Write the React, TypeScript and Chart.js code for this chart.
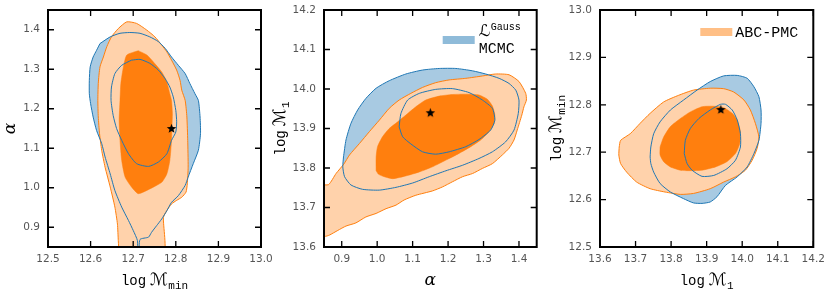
import React, { useEffect, useRef } from 'react';
import { Chart, registerables } from 'chart.js';

Chart.register(...registerables);

type Pt = [number, number];

// ---------- tick values ----------
const P1_X_TICKS = [12.5, 12.6, 12.7, 12.8, 12.9, 13.0];
const P1_Y_TICKS = [0.9, 1.0, 1.1, 1.2, 1.3, 1.4];
const P2_X_TICKS = [0.9, 1.0, 1.1, 1.2, 1.3, 1.4];
const P2_Y_TICKS = [13.6, 13.7, 13.8, 13.9, 14.0, 14.1, 14.2];
const P3_X_TICKS = [13.6, 13.7, 13.8, 13.9, 14.0, 14.1, 14.2];
const P3_Y_TICKS = [12.5, 12.6, 12.7, 12.8, 12.9, 13.0];

// ---------- true parameter values ----------
const TRUE_LOG_MMIN = 12.79;
const TRUE_ALPHA = 1.15;
const TRUE_LOG_M1 = 13.94;

// ---------- panel 1: (log Mmin, alpha) ----------
const P1_ABC_OUTER: Pt[] = [
  [12.667, 0.83], [12.665, 0.866], [12.663, 0.908], [12.657, 0.951], [12.646, 1.002], [12.634, 1.052],
  [12.626, 1.095], [12.621, 1.137], [12.618, 1.179], [12.617, 1.221], [12.618, 1.264], [12.622, 1.306],
  [12.630, 1.331], [12.638, 1.357], [12.649, 1.382], [12.665, 1.403], [12.685, 1.420], [12.708, 1.416],
  [12.732, 1.399], [12.751, 1.382], [12.767, 1.361], [12.779, 1.344], [12.790, 1.323], [12.802, 1.298],
  [12.810, 1.272], [12.814, 1.247], [12.822, 1.221], [12.826, 1.179], [12.828, 1.120], [12.829, 1.052],
  [12.827, 1.010], [12.824, 0.989], [12.814, 0.976], [12.802, 0.968], [12.790, 0.959], [12.779, 0.942],
  [12.771, 0.925], [12.771, 0.83],
];
const P1_ABC_INNER: Pt[] = [
  [12.712, 1.347], [12.732, 1.336], [12.747, 1.319], [12.767, 1.293], [12.779, 1.268], [12.786, 1.238],
  [12.790, 1.221], [12.792, 1.188], [12.791, 1.154], [12.790, 1.120], [12.786, 1.069], [12.779, 1.035],
  [12.767, 1.014], [12.739, 0.997], [12.712, 0.985], [12.696, 1.002], [12.681, 1.027], [12.673, 1.069],
  [12.669, 1.120], [12.667, 1.171], [12.669, 1.221], [12.671, 1.264], [12.677, 1.306], [12.685, 1.336],
];
const P1_MCMC_OUTER: Pt[] = [
  [12.622, 1.365], [12.646, 1.382], [12.669, 1.391], [12.692, 1.393], [12.716, 1.391], [12.739, 1.382],
  [12.759, 1.370], [12.775, 1.353], [12.790, 1.331], [12.806, 1.310], [12.822, 1.289], [12.833, 1.264],
  [12.845, 1.238], [12.853, 1.221], [12.857, 1.179], [12.858, 1.137], [12.853, 1.095], [12.841, 1.061],
  [12.829, 1.027], [12.822, 1.006], [12.806, 0.980], [12.790, 0.963], [12.779, 0.942], [12.767, 0.921],
  [12.755, 0.904], [12.743, 0.887], [12.736, 0.875], [12.716, 0.869], [12.713, 0.83], [12.710, 0.83],
  [12.710, 0.866], [12.700, 0.892], [12.689, 0.917], [12.673, 0.951], [12.657, 0.993], [12.646, 1.035],
  [12.634, 1.078], [12.626, 1.112], [12.614, 1.145], [12.606, 1.179], [12.600, 1.213], [12.597, 1.238],
  [12.597, 1.272], [12.599, 1.306], [12.606, 1.331], [12.614, 1.348],
];
const P1_MCMC_INNER: Pt[] = [
  [12.696, 1.323], [12.716, 1.325], [12.739, 1.315], [12.759, 1.298], [12.775, 1.276], [12.786, 1.255],
  [12.794, 1.230], [12.800, 1.196], [12.802, 1.167], [12.800, 1.141], [12.790, 1.120], [12.779, 1.086],
  [12.759, 1.065], [12.736, 1.054], [12.708, 1.061], [12.689, 1.086], [12.673, 1.120], [12.661, 1.150],
  [12.653, 1.183], [12.648, 1.221], [12.649, 1.255], [12.657, 1.289], [12.673, 1.310],
];

// ---------- panel 2: (alpha, log M1) ----------
const P2_ABC_OUTER: Pt[] = [
  [0.84, 13.758], [0.863, 13.758], [0.884, 13.786], [0.906, 13.810], [0.922, 13.833], [0.950, 13.862],
  [0.978, 13.892], [1.006, 13.921], [1.034, 13.951], [1.062, 13.972], [1.095, 13.989], [1.128, 14.004],
  [1.165, 14.016], [1.203, 14.023], [1.250, 14.027], [1.297, 14.033], [1.334, 14.038], [1.372, 14.036],
  [1.400, 14.019], [1.419, 13.989], [1.421, 13.972], [1.414, 13.955], [1.408, 13.934], [1.395, 13.896],
  [1.386, 13.871], [1.372, 13.850], [1.353, 13.833], [1.325, 13.811], [1.297, 13.799], [1.269, 13.786],
  [1.241, 13.778], [1.212, 13.765], [1.184, 13.752], [1.156, 13.742], [1.109, 13.731], [1.076, 13.719],
  [1.053, 13.706], [1.025, 13.697], [0.997, 13.685], [0.968, 13.676], [0.940, 13.661], [0.912, 13.653],
  [0.889, 13.642], [0.865, 13.630], [0.854, 13.627], [0.84, 13.627],
];
const P2_ABC_INNER: Pt[] = [
  [0.997, 13.793], [0.997, 13.828], [1.001, 13.854], [1.015, 13.879], [1.034, 13.900], [1.058, 13.917],
  [1.081, 13.934], [1.109, 13.955], [1.137, 13.972], [1.175, 13.982], [1.212, 13.986], [1.250, 13.987],
  [1.287, 13.985], [1.311, 13.974], [1.325, 13.957], [1.332, 13.934], [1.330, 13.913], [1.316, 13.892],
  [1.292, 13.871], [1.264, 13.854], [1.231, 13.837], [1.194, 13.820], [1.156, 13.803], [1.119, 13.790],
  [1.081, 13.780], [1.044, 13.773], [1.020, 13.778], [1.004, 13.784],
];
const P2_MCMC_OUTER: Pt[] = [
  [0.905, 13.828], [0.903, 13.803], [0.908, 13.778], [0.926, 13.757], [0.959, 13.746], [1.006, 13.744],
  [1.053, 13.751], [1.100, 13.762], [1.147, 13.778], [1.194, 13.793], [1.241, 13.807], [1.287, 13.824],
  [1.325, 13.841], [1.362, 13.866], [1.386, 13.896], [1.398, 13.938], [1.400, 13.972], [1.391, 13.997],
  [1.372, 14.014], [1.344, 14.027], [1.306, 14.038], [1.269, 14.046], [1.222, 14.052], [1.175, 14.052],
  [1.128, 14.048], [1.081, 14.038], [1.034, 14.021], [0.997, 14.002], [0.968, 13.976], [0.945, 13.947],
  [0.926, 13.913], [0.912, 13.871],
];
const P2_MCMC_INNER: Pt[] = [
  [1.062, 13.904], [1.067, 13.938], [1.086, 13.972], [1.119, 13.989], [1.165, 13.999], [1.212, 14.001],
  [1.259, 13.991], [1.297, 13.972], [1.325, 13.951], [1.332, 13.921], [1.320, 13.896], [1.287, 13.872],
  [1.250, 13.854], [1.203, 13.841], [1.165, 13.835], [1.128, 13.841], [1.095, 13.861], [1.072, 13.879],
];

// ---------- panel 3: (log M1, log Mmin) ----------
const P3_ABC_OUTER: Pt[] = [
  [13.654, 12.711], [13.658, 12.725], [13.685, 12.739], [13.713, 12.761], [13.741, 12.782], [13.779, 12.806],
  [13.821, 12.820], [13.863, 12.831], [13.910, 12.835], [13.948, 12.834], [13.976, 12.827], [14.005, 12.810],
  [14.023, 12.789], [14.037, 12.761], [14.047, 12.732], [14.042, 12.708], [14.028, 12.683], [14.009, 12.662],
  [13.981, 12.648], [13.948, 12.637], [13.910, 12.623], [13.863, 12.613], [13.826, 12.611], [13.783, 12.616],
  [13.741, 12.623], [13.703, 12.637], [13.675, 12.658], [13.658, 12.676], [13.653, 12.694],
];
const P3_ABC_INNER: Pt[] = [
  [13.769, 12.711], [13.779, 12.732], [13.798, 12.754], [13.826, 12.771], [13.854, 12.785], [13.887, 12.796],
  [13.920, 12.797], [13.948, 12.794], [13.972, 12.782], [13.986, 12.768], [13.995, 12.743], [13.993, 12.718],
  [13.981, 12.697], [13.957, 12.680], [13.925, 12.669], [13.887, 12.662], [13.854, 12.661], [13.826, 12.662],
  [13.798, 12.669], [13.779, 12.680], [13.769, 12.694],
];
const P3_MCMC_OUTER: Pt[] = [
  [13.741, 12.690], [13.743, 12.711], [13.751, 12.739], [13.769, 12.764], [13.798, 12.789], [13.835, 12.810],
  [13.873, 12.831], [13.910, 12.849], [13.948, 12.861], [13.986, 12.862], [14.014, 12.856], [14.033, 12.838],
  [14.047, 12.817], [14.053, 12.789], [14.053, 12.761], [14.047, 12.725], [14.033, 12.697], [14.014, 12.669],
  [13.986, 12.648], [13.953, 12.630], [13.929, 12.606], [13.910, 12.595], [13.887, 12.592], [13.863, 12.593],
  [13.835, 12.602], [13.798, 12.616], [13.769, 12.634], [13.751, 12.658], [13.743, 12.676],
];
const P3_MCMC_INNER: Pt[] = [
  [13.837, 12.697], [13.840, 12.725], [13.854, 12.750], [13.878, 12.771], [13.910, 12.789], [13.939, 12.801],
  [13.953, 12.801], [13.972, 12.789], [13.986, 12.768], [13.995, 12.739], [13.995, 12.711], [13.981, 12.683],
  [13.957, 12.665], [13.920, 12.651], [13.887, 12.649], [13.859, 12.662], [13.845, 12.676],
];

// ---------- styles ----------
const ORANGE = '#ff7f0e';
const ORANGE_LIGHT = '#ffd2ab';
const ORANGE_PATCH = '#ffbf86';
const BLUE = '#1f77b4';
const BLUE_FILL = '#a8cae2';
const BLUE_PATCH = '#8fbbd9';
const MONO = '"Liberation Mono", "DejaVu Sans Mono", monospace';
const SERIF = '"DejaVu Serif", "DejaVu Sans", serif';
const TICK_FONT = 'DejaVu Sans';

type Part = { t: string; font: string; dy?: number; gap?: number };

const T_LOG_MMIN: Part[] = [
  { t: 'log', font: `14px ${MONO}`, gap: 4 },
  { t: 'ℳ', font: `17px ${SERIF}` },
  { t: 'min', font: `11px ${MONO}`, dy: 4 },
];
const T_LOG_M1: Part[] = [
  { t: 'log', font: `14px ${MONO}`, gap: 4 },
  { t: 'ℳ', font: `17px ${SERIF}` },
  { t: '1', font: `11px ${MONO}`, dy: 4 },
];
const T_ALPHA: Part[] = [{ t: 'α', font: `italic 17px ${SERIF}` }];

interface PanelSpec {
  left: number; width: number; axisLeft: number; padRight: number;
  xMin: number; xMax: number; yMin: number; yMax: number;
  xTicks: number[]; yTicks: number[];
  abcOuter: Pt[]; abcInner: Pt[]; mcmcOuter: Pt[]; mcmcInner: Pt[];
  truth: Pt; xTitle: Part[]; yTitle: Part[]; yTitleOff: number;
  legend?: 'mcmc' | 'abc';
}

const PANELS: PanelSpec[] = [
  {
    left: 0, width: 280, axisLeft: 48, padRight: 19,
    xMin: 12.5, xMax: 13.0, yMin: 0.85, yMax: 1.45, xTicks: P1_X_TICKS, yTicks: P1_Y_TICKS,
    abcOuter: P1_ABC_OUTER, abcInner: P1_ABC_INNER, mcmcOuter: P1_MCMC_OUTER, mcmcInner: P1_MCMC_INNER,
    truth: [TRUE_LOG_MMIN, TRUE_ALPHA], xTitle: T_LOG_MMIN, yTitle: T_ALPHA, yTitleOff: -33,
  },
  {
    left: 262, width: 282, axisLeft: 62, padRight: 7.3,
    xMin: 0.85, xMax: 1.45, yMin: 13.6, yMax: 14.2, xTicks: P2_X_TICKS, yTicks: P2_Y_TICKS,
    abcOuter: P2_ABC_OUTER, abcInner: P2_ABC_INNER, mcmcOuter: P2_MCMC_OUTER, mcmcInner: P2_MCMC_INNER,
    truth: [TRUE_ALPHA, TRUE_LOG_M1], xTitle: T_ALPHA, yTitle: T_LOG_M1, yTitleOff: -39, legend: 'mcmc',
  },
  {
    left: 540, width: 290, axisLeft: 60, padRight: 16.7,
    xMin: 13.6, xMax: 14.2, yMin: 12.5, yMax: 13.0, xTicks: P3_X_TICKS, yTicks: P3_Y_TICKS,
    abcOuter: P3_ABC_OUTER, abcInner: P3_ABC_INNER, mcmcOuter: P3_MCMC_OUTER, mcmcInner: P3_MCMC_INNER,
    truth: [TRUE_LOG_M1, TRUE_LOG_MMIN], xTitle: T_LOG_M1, yTitle: T_LOG_MMIN, yTitleOff: -39.5, legend: 'abc',
  },
];

const toXY = (a: Pt[]) => a.map(([x, y]) => ({ x, y }));
const closed = (a: Pt[]) => [...a, a[0]];

function makeStar(): HTMLCanvasElement {
  const c = document.createElement('canvas');
  c.width = 11; c.height = 11;
  const g = c.getContext('2d')!;
  g.fillStyle = '#000';
  g.beginPath();
  for (let i = 0; i < 10; i++) {
    const r = i % 2 === 0 ? 5 : 2.1;
    const a = -Math.PI / 2 + (i * Math.PI) / 5;
    const px = 5.5 + r * Math.cos(a);
    const py = 5.8 + r * Math.sin(a);
    if (i === 0) g.moveTo(px, py); else g.lineTo(px, py);
  }
  g.closePath();
  g.fill();
  return c;
}

function drawParts(ctx: CanvasRenderingContext2D, parts: Part[], ax: number, ay: number, rotated: boolean) {
  ctx.save();
  ctx.translate(ax, ay);
  if (rotated) ctx.rotate(-Math.PI / 2);
  ctx.fillStyle = '#000';
  ctx.textBaseline = 'alphabetic';
  ctx.textAlign = 'left';
  const widths = parts.map((p) => { ctx.font = p.font; return ctx.measureText(p.t).width + (p.gap || 0); });
  const total = widths.reduce((s, w) => s + w, 0);
  let x = -total / 2;
  parts.forEach((p, i) => {
    ctx.font = p.font;
    ctx.fillText(p.t, x, p.dy || 0);
    x += widths[i];
  });
  ctx.restore();
}

function decor(s: PanelSpec) {
  return {
    id: 'decor',
    afterDatasetsDraw(chart: any) {
      const { ctx, chartArea: a, scales } = chart;
      const xs = scales.x, ys = scales.y;
      ctx.save();
      ctx.strokeStyle = '#000';
      ctx.lineWidth = 1.3;
      ctx.beginPath();
      for (const v of s.xTicks) {
        const px = xs.getPixelForValue(v);
        ctx.moveTo(px, a.bottom); ctx.lineTo(px, a.bottom - 6);
        ctx.moveTo(px, a.top); ctx.lineTo(px, a.top + 6);
      }
      for (const v of s.yTicks) {
        const py = ys.getPixelForValue(v);
        ctx.moveTo(a.left, py); ctx.lineTo(a.left + 6, py);
        ctx.moveTo(a.right, py); ctx.lineTo(a.right - 6, py);
      }
      ctx.stroke();
      ctx.lineWidth = 2;
      ctx.strokeRect(a.left, a.top, a.right - a.left, a.bottom - a.top);
      ctx.restore();
    },
    afterDraw(chart: any) {
      const { ctx, chartArea: a } = chart;
      drawParts(ctx, s.xTitle, (a.left + a.right) / 2, a.bottom + 38, false);
      drawParts(ctx, s.yTitle, a.left + s.yTitleOff, (a.top + a.bottom) / 2, true);
      ctx.save();
      ctx.textBaseline = 'alphabetic';
      ctx.textAlign = 'left';
      ctx.fillStyle = '#000';
      if (s.legend === 'mcmc') {
        ctx.fillStyle = BLUE_PATCH;
        ctx.fillRect(a.right - 94, a.top + 26, 32, 8);
        ctx.fillStyle = '#000';
        ctx.font = `16px ${SERIF}`;
        ctx.fillText('ℒ', a.right - 58, a.top + 25.5);
        ctx.font = `10px ${MONO}`;
        ctx.fillText('Gauss', a.right - 46, a.top + 19.5);
        ctx.font = `15px ${MONO}`;
        ctx.fillText('MCMC', a.right - 58, a.top + 42.5);
      } else if (s.legend === 'abc') {
        ctx.fillStyle = ORANGE_PATCH;
        ctx.fillRect(a.right - 113, a.top + 18, 32, 8);
        ctx.fillStyle = '#000';
        ctx.font = `15px ${MONO}`;
        ctx.fillText('ABC-PMC', a.right - 78, a.top + 26.5);
      }
      ctx.restore();
    },
  };
}

function buildConfig(s: PanelSpec, star: HTMLCanvasElement): any {
  const poly = (data: Pt[], order: number, fillColor: string | null, lineColor: string | null, lw: number) => ({
    data: toXY(closed(data)),
    showLine: true,
    fill: fillColor ? 'shape' : false,
    backgroundColor: fillColor || 'rgba(0,0,0,0)',
    borderColor: lineColor || 'rgba(0,0,0,0)',
    borderWidth: lw,
    pointRadius: 0,
    tension: 0.2,
    order,
  });
  const tickOpts = { color: '#555', font: { family: TICK_FONT, size: 10.5 }, autoSkip: false, maxRotation: 0, callback: (v: any) => Number(v).toFixed(1) };
  const grid = { display: true, drawOnChartArea: false, drawTicks: false, color: 'rgba(0,0,0,0)' };
  return {
    type: 'scatter',
    data: {
      datasets: [
        poly(s.mcmcOuter, 6, BLUE_FILL, null, 0.1),
        poly(s.abcOuter, 5, ORANGE_LIGHT, ORANGE, 1),
        poly(s.abcInner, 4, ORANGE, ORANGE, 0.5),
        poly(s.mcmcOuter, 3, null, BLUE, 1),
        poly(s.mcmcInner, 2, null, BLUE, 1),
        { data: [{ x: s.truth[0], y: s.truth[1] }], pointStyle: star, pointRadius: 5, showLine: false, order: 1 },
      ],
    },
    options: {
      responsive: false,
      animation: false,
      events: [],
      layout: { padding: { left: 0, right: s.padRight, top: 10, bottom: 0 } },
      plugins: { legend: { display: false }, tooltip: { enabled: false } },
      scales: {
        x: {
          type: 'linear', min: s.xMin, max: s.xMax,
          afterBuildTicks: (sc: any) => { sc.ticks = s.xTicks.map((v) => ({ value: v })); },
          afterFit: (sc: any) => { sc.height = 50; sc.paddingLeft = 0; sc.paddingRight = 0; sc.paddingTop = 0; sc.paddingBottom = 0; },
          grid, border: { display: false },
          ticks: { ...tickOpts, padding: 6 },
        },
        y: {
          type: 'linear', min: s.yMin, max: s.yMax,
          afterBuildTicks: (sc: any) => { sc.ticks = s.yTicks.map((v) => ({ value: v })); },
          afterFit: (sc: any) => { sc.width = s.axisLeft; sc.paddingLeft = 0; sc.paddingRight = 0; sc.paddingTop = 0; sc.paddingBottom = 0; },
          grid, border: { display: false },
          ticks: { ...tickOpts, padding: 8 },
        },
      },
    },
    plugins: [decor(s)],
  };
}

function Panel({ spec }: { spec: PanelSpec }) {
  const ref = useRef<HTMLCanvasElement>(null);
  useEffect(() => {
    if (!ref.current) return;
    const chart = new Chart(ref.current, buildConfig(spec, makeStar()));
    return () => chart.destroy();
  }, [spec]);
  return (
    <canvas
      ref={ref}
      width={spec.width}
      height={297}
      style={{ position: 'absolute', left: spec.left, top: 0, width: spec.width, height: 297 }}
    />
  );
}

export default function App() {
  return (
    <div style={{ position: 'absolute', left: 0, top: 0, width: 830, height: 297, background: '#fff', overflow: 'hidden' }}>
      {PANELS.map((p, i) => (
        <Panel key={i} spec={p} />
      ))}
    </div>
  );
}
